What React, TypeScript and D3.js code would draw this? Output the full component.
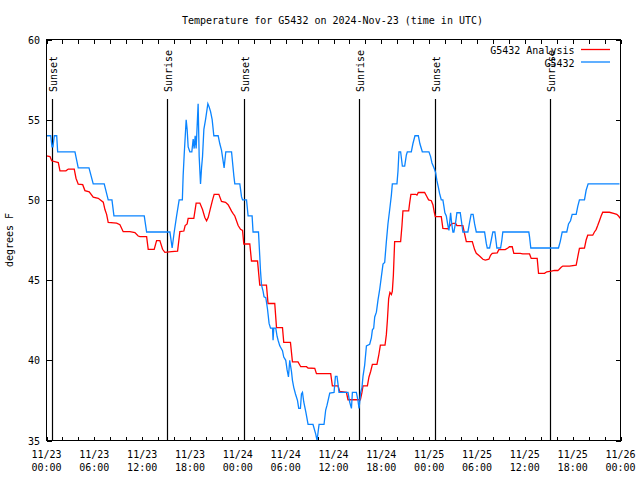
import React from "react";
import * as d3 from "d3";

const START = Date.UTC(2024, 10, 23, 0, 0);
const END = Date.UTC(2024, 10, 26, 0, 0);
const TITLE = "Temperature for G5432 on 2024-Nov-23 (time in UTC)";
const Y_LABEL = "degrees F";
const SERIES_NAMES = ["G5432 Analysis", "G5432"];
const SERIES_COLORS = ["#ff0000", "#0a84ff"];
const Y_TICKS = [35, 40, 45, 50, 55, 60];

const sunLabels = ["Sunset", "Sunrise", "Sunset", "Sunrise", "Sunset", "Sunrise"];
const sunHours = [0.73, 15.14, 24.79, 39.2, 48.72, 63.13];

// Analysis series: hours since 11/23 00:00 UTC, degrees F
const anaHours = [
  0, 0.44, 0.65, 1.48, 1.69, 2.44, 2.73, 3.48, 3.7, 3.98, 4.54, 4.82, 5.36, 5.86, 6.49, 7.12, 7.33, 7.54, 7.74,
  8.8, 9.21, 9.62, 10.46, 11.09, 11.5, 11.72, 12.56, 12.76, 13.51, 13.81, 14.22, 14.56, 14.85, 15.69, 16.44,
  16.73, 17.23, 17.39, 17.64, 17.77, 18.48, 18.77, 19.24, 19.57, 19.86, 20.08, 20.28, 20.58, 20.83, 21.03,
  21.62, 21.95, 22.46, 22.78, 23.0, 23.21, 23.41, 23.62, 23.83, 24.04, 24.34, 24.59, 24.75, 25.5, 25.63,
  25.71, 26.47, 26.75, 27.59, 27.79, 28.63, 28.85, 29.6, 29.76, 30.6, 30.85, 31.55, 31.89, 32.61, 32.81,
  33.65, 33.86, 35.65, 35.86, 36.57, 36.78, 37.62, 37.82, 39.37, 39.57, 39.7, 40.25, 40.45, 40.66, 40.88,
  41.45, 41.67, 41.88, 42.46, 42.63, 42.76, 42.92, 43.08, 43.26, 43.38, 43.51, 43.67, 44.42, 44.59, 44.71,
  45.43, 45.55, 45.71, 46.3, 46.47, 46.64, 47.43, 47.72, 47.93, 48.27, 48.47, 48.65, 48.77, 49.52, 49.72,
  50.35, 50.56, 50.78, 50.98, 51.32, 51.48, 52.23, 52.44, 52.66, 53.41, 53.7, 53.91, 54.32, 54.74, 55.04,
  55.49, 55.7, 55.91, 56.54, 56.74, 57.54, 57.87, 58.08, 58.42, 58.62, 59.42, 59.75, 60.59, 60.8, 61.55,
  61.72, 62.47, 62.76, 63.31, 63.72, 64.14, 64.26, 64.56, 64.76, 65.6, 66.44, 66.64, 66.85, 67.48, 67.69,
  67.89, 68.52, 68.73, 68.94, 69.14, 69.36, 69.57, 69.77, 70.61, 71.24, 71.53, 71.78, 71.96,
];
const anaTemps = [
  52.75, 52.7, 52.44, 52.33, 51.81, 51.81, 51.92, 51.92, 51.35, 50.98, 50.95, 50.58, 50.5, 50.17, 50.1, 49.86,
  49.4, 49.1, 48.6, 48.55, 48.45, 48.02, 48.02, 47.96, 47.75, 47.71, 47.71, 46.92, 46.92, 47.46, 47.46, 46.92,
  46.73, 46.77, 46.8, 48.02, 48.06, 48.4, 48.5, 48.85, 48.85, 49.8, 49.8, 49.4, 48.9, 48.7, 48.9, 49.5, 50.0,
  50.35, 50.35, 49.9, 49.85, 49.7, 49.5, 49.3, 49.15, 49.0, 48.7, 48.4, 48.17, 48.1, 47.25, 47.25, 46.6,
  46.19, 46.19, 44.69, 44.69, 43.54, 43.54, 42.04, 42.04, 41.12, 41.12, 39.9, 39.9, 39.6, 39.6, 39.52, 39.5,
  39.17, 39.17, 38.4, 38.4, 38.06, 38.0, 37.54, 37.54, 38.0, 38.4, 38.4, 38.96, 39.3, 39.75, 39.75, 40.3,
  40.94, 40.94, 41.6, 42.5, 43.85, 44.23, 44.1, 44.3, 45.3, 47.4, 47.4, 48.4, 49.31, 49.31, 49.8, 50.35,
  50.35, 50.3, 50.46, 50.46, 50.2, 50.0, 49.95, 49.7, 49.21, 48.96, 48.96, 48.23, 48.2, 48.35, 48.5, 48.54,
  48.54, 48.4, 48.4, 47.9, 47.4, 47.4, 46.9, 46.67, 46.5, 46.3, 46.25, 46.3, 46.55, 46.67, 46.7, 46.9, 46.9,
  47.0, 47.08, 47.08, 46.67, 46.67, 46.63, 46.63, 46.35, 46.35, 45.42, 45.42, 45.52, 45.56, 45.6, 45.6,
  45.65, 45.8, 45.875, 45.875, 45.93, 46.45, 46.98, 47.0, 47.5, 47.8, 47.8, 48.0, 48.15, 48.4, 48.7, 49.0,
  49.23, 49.23, 49.15, 49.1, 48.98, 48.85,
];

// Observed series: hours since 11/23 00:00 UTC, degrees F
const obsHours = [
  0, 0.53, 0.69, 0.81, 0.98, 1.28, 1.4, 3.57, 3.98, 5.33, 5.86, 7.24, 7.74, 8.21, 8.46, 12.26, 12.56, 15.48,
  15.76, 16.02, 16.32, 16.64, 17.04, 17.14, 17.27, 17.52, 17.64, 17.77, 17.98, 18.23, 18.4, 18.52, 18.65,
  18.77, 19.02, 19.15, 19.32, 19.45, 19.57, 19.74, 19.95, 20.24, 20.4, 20.58, 20.78, 20.99, 21.53, 21.74,
  21.95, 22.16, 22.28, 22.49, 23.21, 23.5, 23.62, 24.25, 24.46, 24.59, 25.09, 25.29, 25.79, 25.91, 26.59,
  26.75, 26.84, 26.97, 27.17, 27.29, 27.51, 27.72, 27.92, 28.1, 28.35, 28.42, 28.51, 28.76, 28.92, 29.05,
  29.26, 29.6, 29.76, 30.01, 30.18, 30.35, 30.51, 30.73, 30.85, 31.02, 31.23, 31.48, 31.64, 31.85, 31.98,
  32.11, 32.27, 32.52, 32.81, 33.43, 33.77, 33.94, 34.06, 34.19, 34.81, 35.02, 35.19, 35.53, 36.07, 36.24,
  36.44, 36.57, 36.69, 37.82, 38.03, 38.25, 38.37, 38.87, 39.07, 39.2, 39.29, 39.41, 39.57, 39.7, 39.91,
  40.13, 40.54, 40.75, 40.88, 41.04, 41.17, 41.38, 41.58, 41.79, 42.0, 42.21, 42.42, 42.63, 42.83, 43.05,
  43.26, 43.38, 43.96, 44.09, 44.21, 44.42, 44.64, 44.93, 45.14, 45.26, 45.76, 45.96, 46.22, 46.64, 46.84,
  47.14, 47.97, 48.18, 48.35, 48.6, 48.81, 48.97, 49.15, 49.31, 49.52, 49.72, 49.85, 49.97, 50.15, 50.35,
  50.48, 50.69, 50.81, 50.98, 51.1, 51.32, 51.48, 51.9, 52.07, 52.23, 52.86, 53.07, 53.26, 53.51, 53.7,
  53.91, 54.95, 55.16, 55.29, 55.58, 55.79, 55.99, 56.24, 56.42, 56.49, 56.96, 57.12, 57.24, 60.5, 60.59,
  60.75, 64.22, 64.44, 64.69, 65.26, 65.48, 65.73, 65.94, 66.44, 66.64, 66.85, 67.48, 67.69, 67.94, 71.87,
];
const obsTemps = [
  54, 54, 53.3, 53.3, 54, 54, 53, 53, 52, 52, 51, 51, 50, 50, 49, 49, 48, 48,
  47, 48, 49, 50, 50, 51.5, 52.8, 55, 54.4, 53.3, 53, 53, 53.8, 53.2, 54,
  53.2, 56, 52.7, 51, 52, 52.7, 54.4, 55, 56, 55.8, 55.5, 55, 54, 54, 53.5,
  53.1, 52.4, 52, 53, 53, 51.5, 51, 51, 50.2, 50, 50, 49, 49, 48, 48,
  46.5, 45.6, 44.7, 44.3, 43.96, 43.9, 43.2, 42.3, 42, 42, 41.25, 42, 42, 41.5, 41.25,
  40.9, 40.6, 40.2, 40, 39.4, 38.96, 40, 39.3, 38.75, 38.3, 37.9, 37.5, 37, 37, 37.9,
  38, 37.4, 36.8, 36, 36, 35.4, 35, 35.5, 36, 36, 36.9, 37.2, 37.96, 38, 39,
  39, 38.5, 38, 38, 37.4, 37, 38, 38, 37.5, 37, 37.4, 38, 38.3, 39, 39.7,
  40.9, 41, 41.4, 41.9, 42, 42.7, 43, 43.75, 44.4, 45.2, 46, 46.1, 47.4, 48.5, 49.4,
  50.3, 51, 51, 51.8, 53, 53, 52.1, 52.1, 52.8, 53, 53, 53.5, 54, 54, 53.5,
  53, 53, 52.7, 52.3, 52, 51.7, 51.2, 50.8, 50.4, 50, 50, 49.6, 49.2, 49, 48.4,
  48.1, 49.2, 48.6, 48, 48, 48.6, 49.2, 49.2, 48.6, 48, 48, 48.6, 49.1, 49.1, 48.5,
  48, 48, 47.3, 47, 47, 47.5, 48, 48, 47.3, 47, 47, 47.5, 48, 48, 47.7,
  47, 47, 47.4, 48, 48, 48.5, 48.7, 49.1, 49.1, 49.6, 50, 50, 50.6, 51, 51,
];

const W = 640;
const H = 480;
const M = { left: 46.5, right: 620.5, top: 39.5, bottom: 440.5 };
const FONT = "'DejaVu Sans Mono', 'Liberation Mono', monospace";

const toDate = (h: number) => new Date(START + h * 3600 * 1000);

export default function App() {
  const x = d3.scaleUtc().domain([new Date(START), new Date(END)]).range([M.left, M.right]);
  const y = d3.scaleLinear().domain([35, 60]).range([M.bottom, M.top]);

  const line = d3
    .line<[number, number]>()
    .x((d) => x(toDate(d[0])))
    .y((d) => y(d[1]));

  const anaData: [number, number][] = anaHours.map((h, i) => [h, anaTemps[i]]);
  const obsData: [number, number][] = obsHours.map((h, i) => [h, obsTemps[i]]);

  const minorTicks = d3.utcHour.every(2)!.range(new Date(START), new Date(END + 1));
  const labelTicks = d3.utcHour.every(6)!.range(new Date(START), new Date(END + 1));
  const fmtDay = d3.utcFormat("%m/%d");
  const fmtTime = d3.utcFormat("%H:%M");

  const tickLen = 5;
  const sunTop = 99;

  return (
    <svg
      width={W}
      height={H}
      style={{ position: "absolute", left: 0, top: 0, background: "#fff" }}
      fontFamily={FONT}
      fontSize={10}
    >
      <rect x={0} y={0} width={W} height={H} fill="#fff" />
      {/* title */}
      <text x={332.5} y={23.5} textAnchor="middle" fill="#000">
        {TITLE}
      </text>

      {/* y label */}
      <text transform={`translate(12.5,240) rotate(-90)`} textAnchor="middle" fill="#000">
        {Y_LABEL}
      </text>

      {/* y ticks */}
      {Y_TICKS.map((t) => (
        <g key={"y" + t}>
          <line x1={M.left} x2={M.left + tickLen} y1={Math.round(y(t)) + 0.5} y2={Math.round(y(t)) + 0.5} stroke="#000" shapeRendering="crispEdges" />
          <line x1={M.right} x2={M.right - tickLen} y1={Math.round(y(t)) + 0.5} y2={Math.round(y(t)) + 0.5} stroke="#000" shapeRendering="crispEdges" />
          <text x={40} y={y(t) + 4} textAnchor="end" fill="#000">
            {t}
          </text>
        </g>
      ))}

      {/* x ticks */}
      {minorTicks.map((d, i) => {
        const xx = Math.round(x(d)) + 0.5;
        return (
          <g key={"xt" + i}>
            <line x1={xx} x2={xx} y1={M.bottom} y2={M.bottom - 4} stroke="#000" shapeRendering="crispEdges" />
            <line x1={xx} x2={xx} y1={M.top} y2={M.top + 4} stroke="#000" shapeRendering="crispEdges" />
          </g>
        );
      })}
      {labelTicks.map((d, i) => (
        <g key={"xl" + i}>
          <text x={x(d)} y={458} textAnchor="middle" fill="#000">
            {fmtDay(d)}
          </text>
          <text x={x(d)} y={471} textAnchor="middle" fill="#000">
            {fmtTime(d)}
          </text>
        </g>
      ))}

      {/* sunrise / sunset markers */}
      {sunHours.map((h, i) => {
        const xx = Math.round(x(toDate(h))) + 0.5;
        return (
          <g key={"sun" + i}>
            <line x1={xx} x2={xx} y1={sunTop} y2={M.bottom} stroke="#000" strokeWidth={1.2} />
            <text transform={`translate(${xx + 4},92) rotate(-90)`} textAnchor="start" fill="#000">
              {sunLabels[i]}
            </text>
          </g>
        );
      })}

      {/* data */}
      <path d={line(anaData) || ""} fill="none" stroke={SERIES_COLORS[0]} strokeWidth={1.3} />
      <path d={line(obsData) || ""} fill="none" stroke={SERIES_COLORS[1]} strokeWidth={1.3} />

      {/* legend */}
      {SERIES_NAMES.map((n, i) => (
        <g key={"lg" + i}>
          <text x={574.5} y={54 + i * 12.5} textAnchor="end" fill="#000">
            {n}
          </text>
          <line x1={581} x2={610} y1={49.5 + i * 12.5} y2={49.5 + i * 12.5} stroke={SERIES_COLORS[i]} strokeWidth={1.3} />
        </g>
      ))}

      {/* frame */}
      <rect
        x={M.left}
        y={M.top}
        width={M.right - M.left}
        height={M.bottom - M.top}
        fill="none"
        stroke="#000"
        shapeRendering="crispEdges"
      />
    </svg>
  );
}
